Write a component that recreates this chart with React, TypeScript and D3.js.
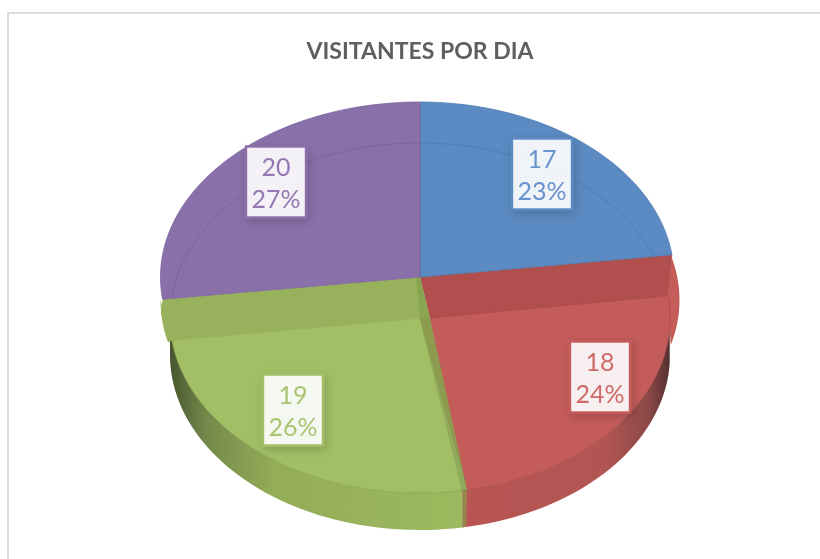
import React from "react";
import * as d3 from "d3";

const chartTitle = "VISITANTES POR DIA";
const categories = ["A", "B", "C", "D"];
const visitors = [17, 18, 19, 20];
const percentLabels = ["23%", "24%", "26%", "27%"];
const faceColors = ["#5b8ac2", "#c45c5a", "#a2bf66", "#8a70a9"];
const bandColors = ["#5b8ac2", "#b14f50", "#98b15c", "#8a70a9"];
const edgeColors = ["#4f7db3", "#a94a4a", "#86a24c", "#7b62a0"];
const labelTextColors = ["#6793cc", "#cf6b69", "#a9c572", "#9578b3"];
const labelBoxes = [
  { cx: 542, cy: 174 },
  { cx: 600, cy: 377 },
  { cx: 293, cy: 410 },
  { cx: 276, cy: 182 },
];

const W = 820;
const H = 559;
const CX = 420;
const RY = 175;
const TOP_CY = 277;
const RIM_CY = 300;
const FACE_CY = 318;
const BASE_CY = 355;
const DEG = Math.PI / 180;

type P = [number, number];
const pt = (a: number, cy: number, rxR: number, rxL = rxR): P => {
  const s = Math.sin(a);
  return [CX + s * (s >= 0 ? rxR : rxL), cy - Math.cos(a) * RY];
};
const arcPts = (a0: number, a1: number, cy: number, rxR: number, rxL = rxR): P[] => {
  const n = Math.max(2, Math.ceil((Math.abs(a1 - a0) / DEG) / 2));
  const t = d3.scaleLinear().domain([0, n]).range([a0, a1]);
  return d3.range(n + 1).map((i) => pt(t(i), cy, rxR, rxL));
};
const line = d3.line<P>().x((d) => d[0]).y((d) => d[1]);
const closed = (pts: P[]) => line(pts)! + "Z";

const pieData = d3
  .pie<number>()
  .sort(null)
  .startAngle(0)
  .endAngle(2 * Math.PI)(visitors);

export default function App() {
  const [blue, red, green, purple] = pieData;
  const apexTop: P = [CX, TOP_CY];
  const apexFace: P = [CX, FACE_CY];
  const apexShift: P = [CX + 10, FACE_CY];
  const redEnd = pt(red.endAngle, FACE_CY, 250);
  const redEndShift: P = [redEnd[0] + 5, redEnd[1]];
  const baseEnd = pt(red.endAngle, BASE_CY, 250);

  const wall = (a0: number, a1: number) =>
    closed([...arcPts(a0, a1, FACE_CY, 250), ...arcPts(a1, a0, BASE_CY, 250)]);

  const blueEdge = pt(blue.endAngle, TOP_CY, 254, 259.5);
  const purpleStart = pt(purple.startAngle, TOP_CY, 254, 259.5);
  const faceRightCorner = pt(red.startAngle, FACE_CY, 250);
  const faceLeftCorner = pt(purple.startAngle, FACE_CY, 250);

  return (
    <svg
      width={W}
      height={H}
      viewBox={`0 0 ${W} ${H}`}
      style={{ position: "absolute", left: 0, top: 0, background: "#fff" }}
    >
      <defs>
        <linearGradient id="wallRed" gradientUnits="userSpaceOnUse" x1="467" x2="672" y1="0" y2="0">
          <stop offset="0" stopColor="#b85553" />
          <stop offset="0.68" stopColor="#b15452" />
          <stop offset="0.88" stopColor="#8e4a49" />
          <stop offset="1" stopColor="#4f2d2c" />
        </linearGradient>
        <linearGradient id="wallGreen" gradientUnits="userSpaceOnUse" x1="170" x2="467" y1="0" y2="0">
          <stop offset="0" stopColor="#47552f" />
          <stop offset="0.12" stopColor="#73894a" />
          <stop offset="0.35" stopColor="#93ad58" />
          <stop offset="1" stopColor="#9dba5e" />
        </linearGradient>
        <filter id="labelShadow" x="-30%" y="-30%" width="160%" height="160%">
          <feDropShadow dx="2" dy="3" stdDeviation="5" floodColor="#000" floodOpacity="0.2" />
        </filter>
        <filter id="soft" x="0" y="0" width="100%" height="100%">
          <feGaussianBlur stdDeviation="0.5" />
        </filter>
      </defs>

      <g filter="url(#soft)">
        <rect x={7.5} y={12.5} width={W} height={H} fill="#fff" stroke="#dcdcdc" strokeWidth={3} />

        <text
          x={420}
          y={59}
          textAnchor="middle"
          fontFamily="Lato, 'Open Sans', sans-serif"
          fontWeight={700}
          fontSize={23}
          fill="#5f5f5f"
          textLength={227}
          lengthAdjust="spacingAndGlyphs"
        >
          {chartTitle}
        </text>

        {/* extruded side */}
        <path d={wall(red.startAngle + 10 * DEG, red.endAngle)} fill="url(#wallRed)" />
        <path d={wall(red.endAngle, 270 * DEG)} fill="url(#wallGreen)" />
        <path
          d={closed([redEnd, redEndShift, [baseEnd[0] + 4, baseEnd[1] - 1], baseEnd])}
          fill={edgeColors[2]}
          opacity={0.6}
        />

        {/* outer bevel rims */}
        <path
          d={closed([blueEdge, ...arcPts(74.75 * DEG, 105 * DEG, RIM_CY, 259.5), faceRightCorner])}
          fill={faceColors[1]}
        />
        <path
          d={closed([...arcPts(270 * DEG, 256 * DEG, RIM_CY, 259.5), faceLeftCorner])}
          fill={faceColors[2]}
        />

        {/* lower faces */}
        <path
          d={closed([apexFace, ...arcPts(red.startAngle, red.endAngle, FACE_CY, 250), redEndShift])}
          fill={faceColors[1]}
          stroke={edgeColors[1]}
          strokeWidth={0.8}
        />
        <path
          d={closed([apexFace, ...arcPts(green.startAngle, green.endAngle, FACE_CY, 250)])}
          fill={faceColors[2]}
          stroke={edgeColors[2]}
          strokeWidth={0.8}
        />

        {/* inner bevel bands */}
        <path
          d={closed([apexTop, blueEdge, faceRightCorner, apexShift])}
          fill={bandColors[1]}
          stroke={edgeColors[1]}
          strokeWidth={0.6}
        />
        <path
          d={closed([apexTop, purpleStart, ...arcPts(266 * DEG, 256 * DEG, RIM_CY, 259.5), faceLeftCorner, apexFace, apexShift])}
          fill={bandColors[2]}
        />
        <path
          d={closed([[CX - 4, TOP_CY + 1], apexTop, apexShift, apexFace])}
          fill={edgeColors[2]}
          opacity={0.75}
        />
        <path d={closed([apexFace, apexShift, redEndShift, redEnd])} fill={edgeColors[2]} opacity={0.9} />

        {/* upper flat slices */}
        <path
          d={closed([apexTop, ...arcPts(blue.startAngle, blue.endAngle, TOP_CY, 254, 259.5)])}
          fill={faceColors[0]}
          stroke={edgeColors[0]}
          strokeWidth={0.8}
        />
        <path
          d={closed([apexTop, ...arcPts(purple.startAngle, purple.endAngle, TOP_CY, 254, 259.5)])}
          fill={faceColors[3]}
          stroke={edgeColors[3]}
          strokeWidth={0.8}
        />

        {/* faint inner arc */}
        <path
          d={line(arcPts(0, 69 * DEG, FACE_CY, 250))!}
          fill="none"
          stroke={edgeColors[0]}
          strokeWidth={1}
        />
        <path
          d={line(arcPts(277 * DEG, 360 * DEG, FACE_CY, 250))!}
          fill="none"
          stroke={edgeColors[3]}
          strokeWidth={1}
        />

        {/* data labels */}
        {categories.map((c, i) => {
          const b = labelBoxes[i];
          return (
            <g key={c}>
              <rect
                x={b.cx - 30}
                y={b.cy - 35.5}
                width={60}
                height={71}
                fill="#fff"
                fillOpacity={0.9}
                stroke={faceColors[i]}
                strokeWidth={2.4}
                filter="url(#labelShadow)"
              />
              <g
                fontFamily="Lato, 'Open Sans', sans-serif"
                fontSize={25}
                fill={labelTextColors[i]}
                textAnchor="middle"
              >
                <text x={b.cx} y={b.cy - 6}>
                  {visitors[i]}
                </text>
                <text x={b.cx} y={b.cy + 26}>
                  {percentLabels[i]}
                </text>
              </g>
            </g>
          );
        })}
      </g>
    </svg>
  );
}
